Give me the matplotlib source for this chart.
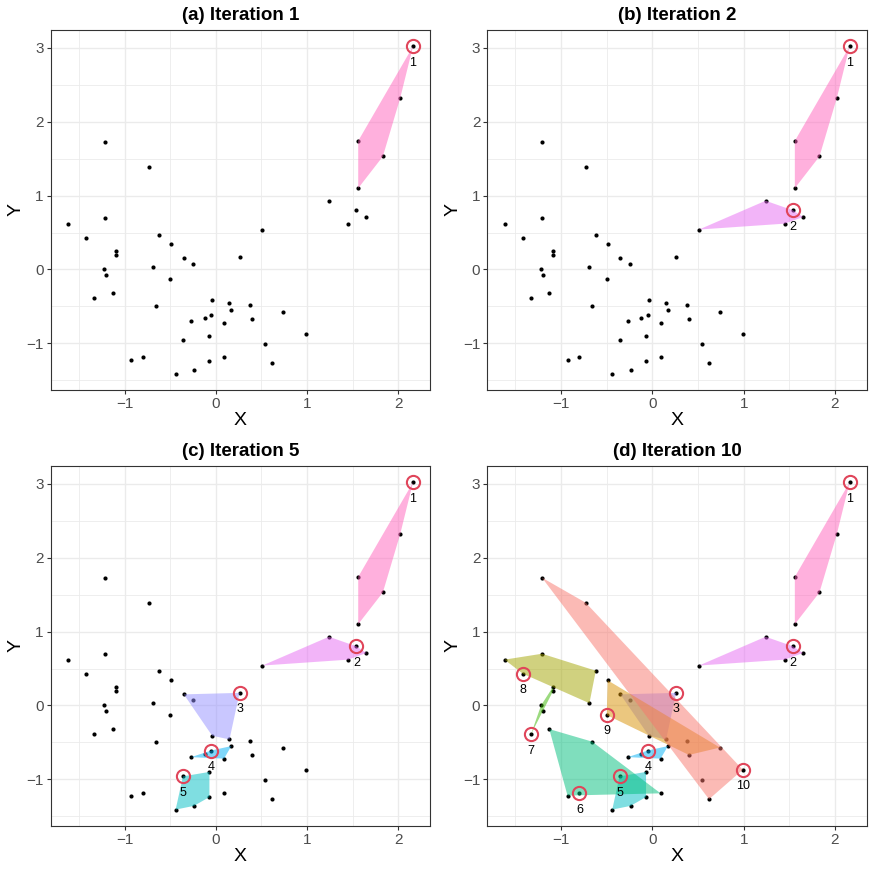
import matplotlib
matplotlib.use("Agg")
import matplotlib.pyplot as plt
from matplotlib.ticker import MultipleLocator
import numpy as np

plt.rcParams['font.family'] = ['Liberation Sans', 'DejaVu Sans']

# points grouped by cluster, first point of each group is the cluster centre
x = [2.16, 2.02, 1.56, 1.83, 1.56,
     1.54, 1.24, 0.51, 1.65, 1.45,
     0.26, -0.35, -0.25, -0.04, 0.15,
     -0.05, -0.27, -0.12, 0.17, 0.09,
     -0.36, -0.07, -0.07, -0.24, -0.44,
     -0.80, -1.13, -0.66, 0.09, -0.93,
     -1.33, -1.22, -1.20, -1.09, -1.09,
     -1.42, -1.62, -1.21, -0.62, -0.69,
     -0.50, -0.49, 0.38, 0.74, 0.40,
     0.99, -1.21, -0.73, 0.54, 0.62]
y = [3.02, 2.32, 1.74, 1.53, 1.10,
     0.80, 0.93, 0.54, 0.71, 0.62,
     0.17, 0.15, 0.07, -0.41, -0.46,
     -0.61, -0.70, -0.66, -0.55, -0.72,
     -0.96, -0.90, -1.24, -1.36, -1.41,
     -1.19, -0.32, -0.49, -1.19, -1.22,
     -0.39, 0.00, -0.07, 0.19, 0.25,
     0.43, 0.62, 0.70, 0.47, 0.03,
     -0.13, 0.34, -0.48, -0.57, -0.67,
     -0.87, 1.73, 1.39, -1.01, -1.27]
cluster = [k for k in range(1, 11) for _ in range(5)]
center_idx = [0, 5, 10, 15, 20, 25, 30, 35, 40, 45]

colors = ["#FF62BC", "#E76BF3", "#9590FF", "#00B0F6", "#00BFC4",
          "#00BF7D", "#39B600", "#A3A500", "#D89000", "#F8766D"]

panels = [("(a) Iteration 1", 1), ("(b) Iteration 2", 2),
          ("(c) Iteration 5", 5), ("(d) Iteration 10", 10)]

x = np.array(x)
y = np.array(y)
cluster = np.array(cluster)


def hull(pts):
    pts = sorted(map(tuple, pts))

    def cross(o, a, b):
        return (a[0] - o[0]) * (b[1] - o[1]) - (a[1] - o[1]) * (b[0] - o[0])

    lower, upper = [], []
    for p in pts:
        while len(lower) >= 2 and cross(lower[-2], lower[-1], p) <= 0:
            lower.pop()
        lower.append(p)
    for p in reversed(pts):
        while len(upper) >= 2 and cross(upper[-2], upper[-1], p) <= 0:
            upper.pop()
        upper.append(p)
    return np.array(lower[:-1] + upper[:-1])


fig = plt.figure(figsize=(8.72, 8.72), dpi=100)
lefts = [0.0581, 0.5588]
bottoms = [0.5528, 0.0528]
w, h = 0.4353, 0.4128

xr = x.max() - x.min()
yr = y.max() - y.min()

for i, (title, n) in enumerate(panels):
    ax = fig.add_axes([lefts[i % 2], bottoms[i // 2], w, h])
    ax.set_xlim(x.min() - 0.05 * xr, x.max() + 0.05 * xr)
    ax.set_ylim(y.min() - 0.05 * yr, y.max() + 0.05 * yr)
    ax.xaxis.set_major_locator(MultipleLocator(1))
    ax.yaxis.set_major_locator(MultipleLocator(1))
    ax.xaxis.set_minor_locator(MultipleLocator(0.5))
    ax.yaxis.set_minor_locator(MultipleLocator(0.5))
    ax.grid(True, which='major', color='#EBEBEB', linewidth=1.0, zorder=0)
    ax.grid(True, which='minor', color='#EBEBEB', linewidth=0.6, zorder=0)
    ax.set_axisbelow(True)
    ax.tick_params(which='minor', length=0)
    ax.tick_params(which='major', length=3, color='#333333', labelsize=11,
                   labelcolor='#4D4D4D', width=0.8, pad=2)
    for s in ax.spines.values():
        s.set_color('#333333')
        s.set_linewidth(0.8)

    ax.scatter(x, y, s=9, color='black', zorder=2, linewidths=0)
    for k in range(1, n + 1):
        m = cluster == k
        hp = hull(np.column_stack([x[m], y[m]]))
        ax.fill(hp[:, 0], hp[:, 1], color=colors[k - 1], alpha=0.5,
                linewidth=0, zorder=3)
    for k in range(1, n + 1):
        c = center_idx[k - 1]
        ax.plot(x[c], y[c], 'o', ms=9.5, mfc='none', mec='#E0455A', mew=1.5,
                zorder=4)
        ax.text(x[c], y[c] - 0.22, str(k), ha='center', va='center',
                fontsize=9, zorder=5)

    ax.set_title(title, fontsize=13.5, fontweight='bold', pad=7)
    ax.set_xlabel("X", fontsize=14, labelpad=1)
    ax.set_ylabel("Y", fontsize=14, labelpad=1)

fig.savefig("out.png", dpi=100)
